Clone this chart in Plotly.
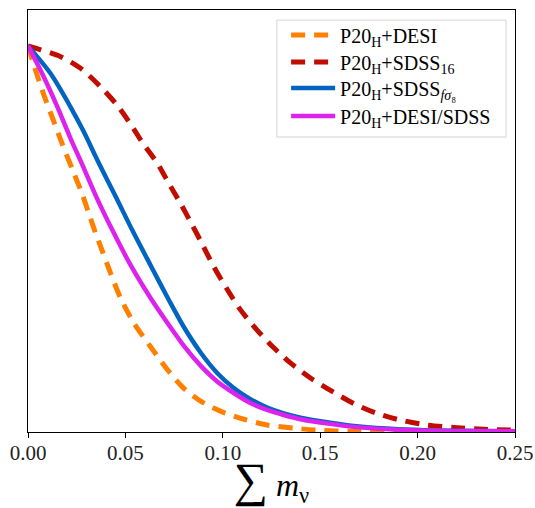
import plotly.graph_objects as go

# P20_H+DESI (orange dashed)
x_desi = [0.0, 0.004, 0.008, 0.0132, 0.0174, 0.0236, 0.0279, 0.0313, 0.0347, 0.0373, 0.0425, 0.0475,
          0.0544, 0.0629, 0.0715, 0.08, 0.0886, 0.0988, 0.1108, 0.1228, 0.1364, 0.148, 0.165, 0.2, 0.25]
y_desi = [1.0, 0.935, 0.875, 0.805, 0.748, 0.670, 0.615, 0.565, 0.515, 0.480, 0.410, 0.347,
          0.282, 0.221, 0.162, 0.113, 0.080, 0.054, 0.033, 0.018, 0.010, 0.005, 0.002, 0.001, 0.0]

# P20_H+SDSS16 (red dashed)
x_sdss16 = [0.0, 0.0065, 0.0168, 0.027, 0.0373, 0.0458, 0.0527, 0.0587, 0.0664, 0.0723, 0.0783,
            0.0843, 0.0886, 0.0954, 0.1023, 0.109, 0.1176, 0.1262, 0.1347, 0.145, 0.1535,
            0.1672, 0.1792, 0.1911, 0.2048, 0.2185, 0.2338, 0.25]
y_sdss16 = [1.0, 0.99, 0.972, 0.942, 0.894, 0.846, 0.797, 0.750, 0.696, 0.644, 0.592,
            0.536, 0.495, 0.428, 0.369, 0.317, 0.264, 0.218, 0.179, 0.140, 0.113,
            0.074, 0.048, 0.031, 0.018, 0.012, 0.007, 0.005]

# P20_H+SDSS_fsigma8 (blue solid)
x_fs8 = [0.0, 0.0115, 0.0217, 0.0282, 0.0364, 0.045, 0.0535, 0.0629, 0.0723, 0.08,
         0.0886, 0.0971, 0.1056, 0.1142, 0.1228, 0.1313, 0.1399, 0.1552, 0.17, 0.19, 0.21, 0.25]
y_fs8 = [1.0, 0.929, 0.843, 0.782, 0.696, 0.610, 0.523, 0.432, 0.342, 0.272,
         0.206, 0.153, 0.114, 0.085, 0.063, 0.048, 0.037, 0.024, 0.014, 0.007, 0.004, 0.002]

# P20_H+DESI/SDSS (magenta solid)
x_comb = [0.0, 0.0072, 0.0149, 0.0217, 0.0279, 0.0347, 0.0433, 0.0527, 0.0629, 0.0715, 0.08,
          0.0886, 0.0971, 0.1056, 0.1142, 0.1228, 0.1313, 0.1399, 0.1552, 0.17, 0.19, 0.21, 0.25]
y_comb = [1.0, 0.929, 0.844, 0.762, 0.692, 0.613, 0.523, 0.432, 0.347, 0.283, 0.223,
          0.172, 0.131, 0.101, 0.075, 0.057, 0.044, 0.033, 0.021, 0.012, 0.006, 0.003, 0.002]

x_ticks = [0.0, 0.05, 0.10, 0.15, 0.20, 0.25]
x_tick_labels = ["0.00", "0.05", "0.10", "0.15", "0.20", "0.25"]

names = ["P20<sub>H</sub>+DESI",
         "P20<sub>H</sub>+SDSS<sub>16</sub>",
         "P20<sub>H</sub>+SDSS<sub><i>fσ</i>₈</sub>",
         "P20<sub>H</sub>+DESI/SDSS"]

FONT = "Liberation Serif"

fig = go.Figure()
fig.add_trace(go.Scatter(x=x_desi, y=y_desi, mode="lines", name=names[0], legend="legend",
                         line=dict(color="#ff7f00", width=5, dash="14px,9px", shape="spline", smoothing=0.8)))
fig.add_trace(go.Scatter(x=x_sdss16, y=y_sdss16, mode="lines", name=names[1], legend="legend2",
                         line=dict(color="#c00d00", width=5, dash="14px,9px", shape="spline", smoothing=0.8)))
fig.add_trace(go.Scatter(x=x_fs8, y=y_fs8, mode="lines", name=names[2], legend="legend3",
                         line=dict(color="#0064c0", width=4.5, shape="spline", smoothing=0.8)))
fig.add_trace(go.Scatter(x=x_comb, y=y_comb, mode="lines", name=names[3], legend="legend4",
                         line=dict(color="#dd22ee", width=4.5, shape="spline", smoothing=0.8)))

# legend frame (matplotlib-style box)
fig.add_shape(type="rect", xref="paper", yref="paper",
              x0=0.511, x1=0.9815, y0=0.699, y1=0.976,
              line=dict(color="#d4d4d4", width=1), fillcolor="rgba(255,255,255,0.85)", layer="below")

def leg(yc):
    return dict(x=0.53, y=yc, xanchor="left", yanchor="middle",
                bgcolor="rgba(0,0,0,0)", borderwidth=0,
                font=dict(family=FONT, size=20, color="black"), itemwidth=44)

fig.update_layout(
    width=535, height=508,
    margin=dict(l=28, r=20, t=10, b=76, autoexpand=False),
    plot_bgcolor="white", paper_bgcolor="white",
    font=dict(family=FONT, color="black"),
    showlegend=True,
    legend=leg(0.9408), legend2=leg(0.8768), legend3=leg(0.8152), legend4=leg(0.7488),
    xaxis=dict(range=[0, 0.25], tickvals=x_ticks, ticktext=x_tick_labels,
               ticks="outside", ticklen=5, tickwidth=1, tickcolor="black",
               showline=True, linecolor="black", linewidth=1.3, mirror=True,
               showgrid=False, zeroline=False, automargin=False,
               ticklabelstandoff=-3,
               tickfont=dict(family=FONT, size=21, color="#222"),
               title=dict(text="<span style='font-size:48px'>∑</span> <i>m</i><sub>ν</sub>",
                          font=dict(family=FONT, size=32), standoff=8)),
    yaxis=dict(range=[0, 1.093], showticklabels=False, ticks="",
               showline=True, linecolor="black", linewidth=1.3, mirror=True,
               showgrid=False, zeroline=False, automargin=False),
)

fig.write_html("out.html")
